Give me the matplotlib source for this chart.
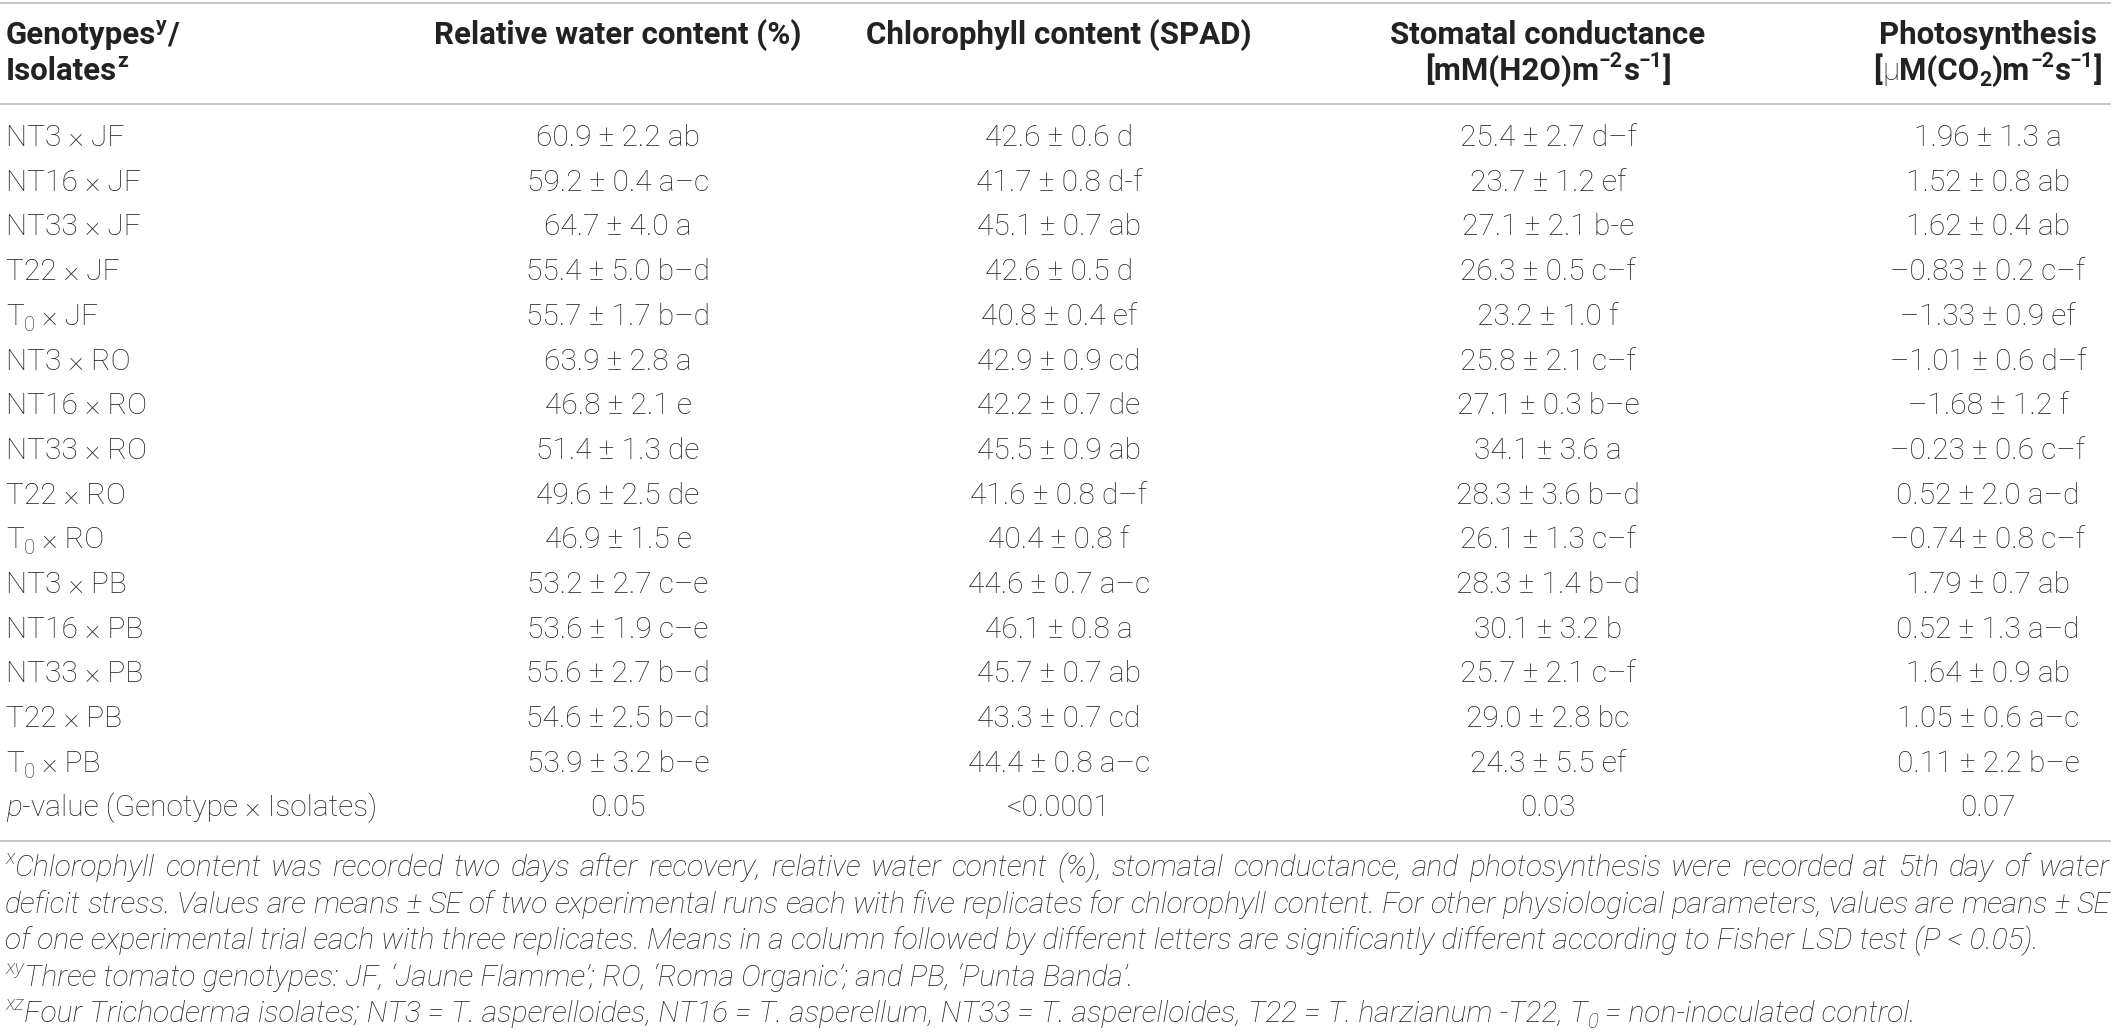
import matplotlib
matplotlib.use("Agg")
import matplotlib.pyplot as plt

W, H = 2116, 1035

# ---- table data -------------------------------------------------------------
isolates = ["NT3", "NT16", "NT33", "T22", "T0"]
genotypes = ["JF", "RO", "PB"]

rwc = ["60.9 ± 2.2 ab", "59.2 ± 0.4 a–c", "64.7 ± 4.0 a", "55.4 ± 5.0 b–d", "55.7 ± 1.7 b–d",
       "63.9 ± 2.8 a", "46.8 ± 2.1 e", "51.4 ± 1.3 de", "49.6 ± 2.5 de", "46.9 ± 1.5 e",
       "53.2 ± 2.7 c–e", "53.6 ± 1.9 c–e", "55.6 ± 2.7 b–d", "54.6 ± 2.5 b–d", "53.9 ± 3.2 b–e"]
chl = ["42.6 ± 0.6 d", "41.7 ± 0.8 d-f", "45.1 ± 0.7 ab", "42.6 ± 0.5 d", "40.8 ± 0.4 ef",
       "42.9 ± 0.9 cd", "42.2 ± 0.7 de", "45.5 ± 0.9 ab", "41.6 ± 0.8 d–f", "40.4 ± 0.8 f",
       "44.6 ± 0.7 a–c", "46.1 ± 0.8 a", "45.7 ± 0.7 ab", "43.3 ± 0.7 cd", "44.4 ± 0.8 a–c"]
stom = ["25.4 ± 2.7 d–f", "23.7 ± 1.2 ef", "27.1 ± 2.1 b-e", "26.3 ± 0.5 c–f", "23.2 ± 1.0 f",
        "25.8 ± 2.1 c–f", "27.1 ± 0.3 b–e", "34.1 ± 3.6 a", "28.3 ± 3.6 b–d", "26.1 ± 1.3 c–f",
        "28.3 ± 1.4 b–d", "30.1 ± 3.2 b", "25.7 ± 2.1 c–f", "29.0 ± 2.8 bc", "24.3 ± 5.5 ef"]
photo = ["1.96 ± 1.3 a", "1.52 ± 0.8 ab", "1.62 ± 0.4 ab", "–0.83 ± 0.2 c–f", "–1.33 ± 0.9 ef",
         "–1.01 ± 0.6 d–f", "–1.68 ± 1.2 f", "–0.23 ± 0.6 c–f", "0.52 ± 2.0 a–d", "–0.74 ± 0.8 c–f",
         "1.79 ± 0.7 ab", "0.52 ± 1.3 a–d", "1.64 ± 0.9 ab", "1.05 ± 0.6 a–c", "0.11 ± 2.2 b–e"]
pvals = ["0.05", "<0.0001", "0.03", "0.07"]

footnotes = [
    "Chlorophyll content was recorded two days after recovery, relative water content (%), "
    "stomatal conductance, and photosynthesis were recorded at 5th day of water",
    "deficit stress. Values are means ± SE of two experimental runs each with five replicates "
    "for chlorophyll content. For other physiological parameters, values are means ± SE",
    "of one experimental trial each with three replicates. Means in a column followed by "
    "different letters are significantly different according to Fisher LSD test (P < 0.05).",
    "Three tomato genotypes: JF, ‘Jaune Flamme’; RO, ‘Roma Organic’; and PB, ‘Punta Banda’.",
    "Four Trichoderma isolates; NT3 = T. asperelloides, NT16 = T. asperellum, NT33 = T. asperelloides, "
    "T22 = T. harzianum -T22, T",
]

# ---- layout (pixels) --------------------------------------------------------
col_x = [618, 1059, 1548, 1988]
label_x = 6
row0, row_step = 146, 44.7
head_y = [44, 80]
rule_y = [3, 104, 841]
foot_y0, foot_step = 876, 36.6
ink = "#222222"
rule_c = "#b5b5b5"
FONT = ["Roboto", "DejaVu Sans"]

styles = {
    "body": dict(family=FONT, weight="light", style="normal"),
    "it": dict(family=FONT, weight="light", style="italic"),
    "head": dict(family=FONT, weight="bold", style="normal"),
}

fig = plt.figure(figsize=(W / 100, H / 100), dpi=100)
ax = fig.add_axes([0, 0, 1, 1])
ax.set_xlim(0, W)
ax.set_ylim(H, 0)
ax.axis("off")
renderer = fig.canvas.get_renderer()

_bar = {}


def text_w(txt, size, st):
    key = (size, st)
    if key not in _bar:
        t = ax.text(0, 0, "|", fontsize=size, **styles[st])
        _bar[key] = t.get_window_extent(renderer).width
        t.remove()
    t = ax.text(0, 0, txt + "|", fontsize=size, **styles[st])
    w = t.get_window_extent(renderer).width - _bar[key]
    t.remove()
    return w


def run_size(size, pos):
    return size * 0.68 if pos != "n" else size


def runs_width(runs, size):
    return sum(text_w(t, run_size(size, p), st) for t, st, p in runs)


def draw_runs(x, y, runs, size, ha="left"):
    if ha == "center":
        x -= runs_width(runs, size) / 2
    em = size * 100 / 72
    for t, st, p in runs:
        s = run_size(size, p)
        dy = {"n": 0, "sup": -0.40 * em, "sub": 0.20 * em}[p]
        ax.text(x, y + dy, t, fontsize=s, va="baseline", ha="left", color=ink, **styles[st])
        x += text_w(t, s, st)
    return x


def draw_justified(x0, x1, y, prefix, txt, size, st):
    x = draw_runs(x0, y, prefix, size) if prefix else x0
    words = txt.split(" ")
    ws = [text_w(w, size, st) for w in words]
    gap = (x1 - x - sum(ws)) / (len(words) - 1)
    for w, wd in zip(words, ws):
        ax.text(x, y, w, fontsize=size, va="baseline", ha="left", color=ink, **styles[st])
        x += wd + gap


# fit font sizes to the measured widths in the reference
body = 10 * 372 / text_w("p-value (Genotype × Isolates)", 10, "body")
head = 10 * 368 / text_w("Relative water content (%)", 10, "head")
foot = 10 * 2032 / text_w(footnotes[2], 10, "it")

# ---- rules ------------------------------------------------------------------
for y in rule_y:
    ax.plot([0, 2111], [y, y], color=rule_c, lw=1.1, solid_capstyle="butt")

# ---- header -----------------------------------------------------------------
draw_runs(label_x, head_y[0], [("Genotypes", "head", "n"), ("y", "head", "sup"), ("/", "head", "n")], head)
draw_runs(label_x, head_y[1], [("Isolates", "head", "n"), ("z", "head", "sup")], head)
draw_runs(col_x[0], head_y[0], [("Relative water content (%)", "head", "n")], head, "center")
draw_runs(col_x[1], head_y[0], [("Chlorophyll content (SPAD)", "head", "n")], head, "center")
draw_runs(col_x[2], head_y[0], [("Stomatal conductance", "head", "n")], head, "center")
draw_runs(col_x[2], head_y[1], [("[mM(H2O)m", "head", "n"), ("−2", "head", "sup"), ("s", "head", "n"),
                                ("−1", "head", "sup"), ("]", "head", "n")], head, "center")
draw_runs(col_x[3], head_y[0], [("Photosynthesis", "head", "n")], head, "center")
draw_runs(col_x[3], head_y[1], [("[", "head", "n"), ("μ", "body", "n"), ("M(CO", "head", "n"), ("2", "head", "sub"),
                                (")m", "head", "n"), ("−2", "head", "sup"), ("s", "head", "n"),
                                ("−1", "head", "sup"), ("]", "head", "n")], head, "center")

# ---- body rows --------------------------------------------------------------
columns = [rwc, chl, stom, photo]
i = 0
for g in genotypes:
    for iso in isolates:
        y = row0 + i * row_step
        if iso == "T0":
            lab = [("T", "body", "n"), ("0", "body", "sub"), (" × " + g, "body", "n")]
        else:
            lab = [(iso + " × " + g, "body", "n")]
        draw_runs(label_x, y, lab, body)
        for cx, col in zip(col_x, columns):
            draw_runs(cx, y, [(col[i], "body", "n")], body, "center")
        i += 1

y = row0 + i * row_step
draw_runs(label_x, y, [("p", "it", "n"), ("-value (Genotype × Isolates)", "body", "n")], body)
for cx, pv in zip(col_x, pvals):
    draw_runs(cx, y, [(pv, "body", "n")], body, "center")

# ---- footnotes --------------------------------------------------------------
fy = [foot_y0 + k * foot_step for k in range(5)]
draw_justified(5, 2110, fy[0], [("x", "it", "sup")], footnotes[0], foot, "it")
draw_justified(5, 2110, fy[1], None, footnotes[1], foot, "it")
draw_runs(5, fy[2], [(footnotes[2], "it", "n")], foot)
draw_runs(5, fy[3], [("xy", "it", "sup"), (footnotes[3], "it", "n")], foot)
draw_runs(5, fy[4], [("xz", "it", "sup"), (footnotes[4], "it", "n"), ("0", "it", "sub"),
                     (" = non-inoculated control.", "it", "n")], foot)

fig.savefig("out.png", dpi=100, facecolor="white")
